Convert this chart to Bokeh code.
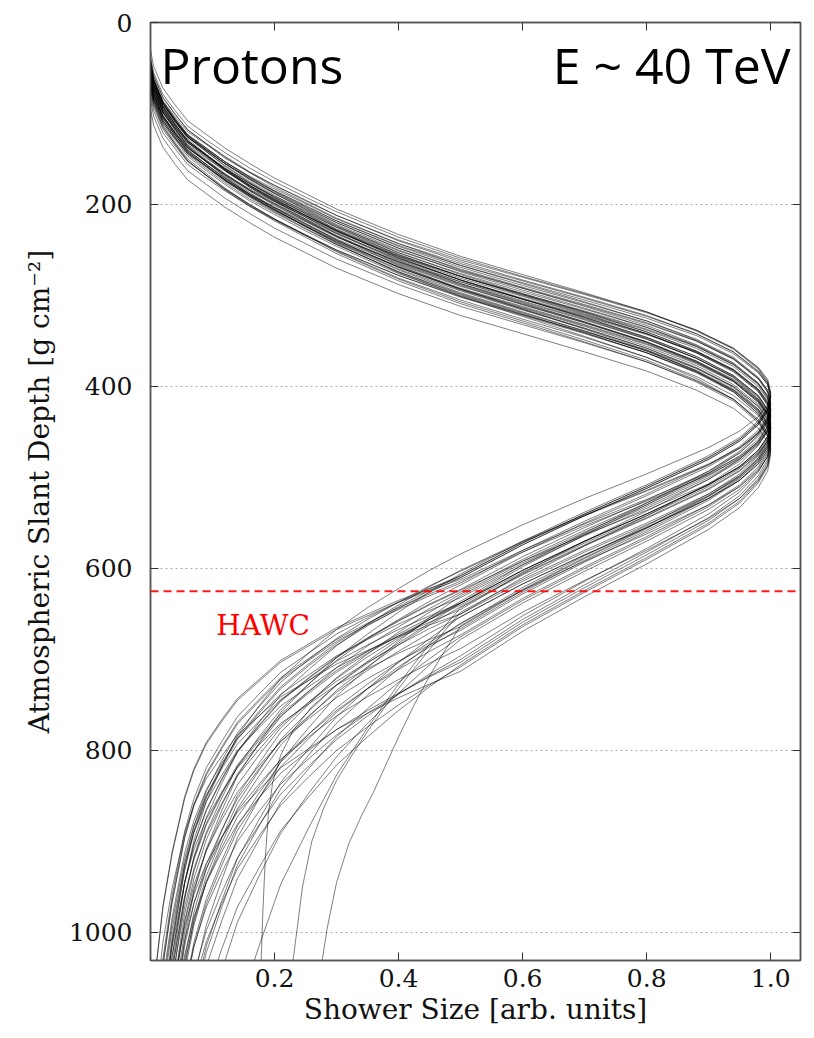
from bokeh.plotting import figure
from bokeh.models import (Range1d, FixedTicker, Label, LinearAxis, CustomJSTickFormatter,
                          Span, PrintfTickFormatter)
from bokeh.embed import file_html
from bokeh.resources import INLINE

# Shower size levels (fraction of maximum) at which each profile's depth is read
X_RISE = [0, 0.005, 0.02, 0.04, 0.06, 0.09, 0.12, 0.16, 0.20, 0.25, 0.30, 0.40, 0.50,
          0.60, 0.70, 0.80, 0.88, 0.94, 0.98, 0.995, 1.0]
X_FALL_TOP = [0.995, 0.98, 0.95, 0.90, 0.80, 0.70, 0.60, 0.50]
X_FALL_TAIL = [0.45, 0.40, 0.35, 0.30, 0.255, 0.21, 0.175, 0.14, 0.115, 0.09, 0.07, 0.055,
               0.035, 0.02, 0.01, 0.004]

# Slant depth [g cm^-2] of each shower at the levels above (rise | fall top | fall tail)
SHOWER_DEPTHS = [
    [45,63,87,106,123,138,153,170,186,203,220,248,272,292,312,333,354,374,396,411,425, 440,455,473,493,525,555,587,623, 639,657,676,697,720,745,772,801,831,865,903,945,1025,1105,1185,1265],
    [50,68,93,112,130,146,161,179,194,212,229,259,283,304,324,346,367,388,410,425,440, 455,470,488,508,540,570,602,638, 656,676,697,721,747,775,805,838,872,910,953,1000,1090,1180,1270,1360],
    [55,72,96,114,131,146,160,177,192,209,225,253,276,296,315,335,355,375,397,411,425, 439,452,468,486,515,542,571,603, 619,637,656,677,700,725,752,781,811,845,883,925,1005,1085,1165,1245],
    [48,67,92,112,130,146,162,180,196,214,232,262,287,308,329,351,373,394,418,433,448, 465,481,501,523,558,591,626,666, 686,708,732,758,787,818,852,888,926,968,1016,1068,1168,1268,1368,1468],
    [60,78,102,121,138,153,168,185,201,218,235,263,287,307,327,348,369,389,411,426,440, 455,470,488,508,540,570,602,638, 652,667,684,702,723,744,768,793,820,849,883,919,989,1059,1129,1199],
    [42,59,83,101,118,133,147,164,179,196,212,240,263,283,302,322,342,362,384,398,412, 427,442,460,480,512,542,574,610, 622,635,650,665,683,701,722,743,766,791,820,851,911,971,1031,1091],
    [65,83,108,127,145,161,176,194,209,227,244,274,298,319,339,361,382,403,425,440,455, 472,488,508,530,565,598,633,673, 691,711,732,756,782,810,840,873,907,945,988,1035,1125,1215,1305,1395],
    [52,69,92,110,126,140,155,171,185,201,218,245,267,286,305,325,344,364,385,398,412, 427,442,460,480,512,542,574,610, 626,644,663,684,707,732,759,788,818,852,890,932,1012,1092,1172,1252],
    [58,77,102,122,140,156,172,190,206,224,242,272,297,318,339,361,383,404,428,443,458, 476,494,516,540,578,614,652,696, 716,738,762,788,817,848,882,918,956,998,1046,1098,1198,1298,1398,1498],
    [46,64,89,108,126,142,157,175,190,208,225,255,279,300,320,342,363,384,406,421,436, 450,463,479,497,526,553,582,614, 628,643,660,678,699,720,744,769,796,825,859,895,965,1035,1105,1175],
    [70,87,110,128,144,158,173,189,203,219,236,263,285,304,323,343,362,382,403,416,430, 445,460,478,498,530,560,592,628, 648,670,694,720,749,780,814,850,888,930,978,1030,1130,1230,1330,1430],
    [62,79,103,121,138,153,167,184,199,216,232,260,283,303,322,342,362,382,404,418,432, 449,465,485,507,542,575,610,650, 666,684,703,724,747,772,799,828,858,892,930,972,1052,1132,1212,1292],
    [40,58,82,101,118,133,148,165,181,198,215,243,267,287,307,328,349,369,391,406,420, 435,450,468,488,520,550,582,618, 636,656,677,701,727,755,785,818,852,890,933,980,1070,1160,1250,1340],
    [75,93,117,136,153,168,183,200,216,233,250,278,302,322,342,363,384,404,426,441,455, 470,485,503,523,555,585,617,653, 677,703,732,763,798,835,876,919,965,1015,1073,1135,1255,1375,1495,1615],
    [54,72,96,115,132,147,162,179,195,212,229,257,281,301,321,342,363,383,405,420,434, 448,461,477,495,524,551,580,612, 624,637,652,667,685,703,724,745,768,793,822,853,913,973,1033,1093],
    [68,87,112,132,150,166,182,200,216,234,252,282,307,328,349,371,393,414,438,453,468, 486,504,526,550,588,624,662,706, 730,756,785,816,851,888,929,972,1018,1068,1126,1188,1308,1428,1548,1668],
    [50,67,90,108,124,138,153,169,183,199,216,243,265,284,303,323,342,362,383,396,410, 425,440,458,478,510,540,572,608, 622,637,654,672,693,714,738,763,790,819,853,889,959,1029,1099,1169],
    [80,97,121,139,156,171,185,202,217,234,250,278,301,321,340,360,380,400,422,436,450, 467,483,503,525,560,593,628,668, 684,702,721,742,765,790,817,846,876,910,948,990,1070,1150,1230,1310],
    [44,63,88,108,126,142,158,176,192,210,228,258,283,304,325,347,369,390,414,429,444, 459,474,492,512,544,574,606,642, 662,684,708,734,763,794,828,864,902,944,992,1044,1144,1244,1344,1444],
    [56,74,99,118,136,152,167,185,200,218,235,265,289,310,330,352,373,394,416,431,446, 463,479,499,521,556,589,624,664, 678,693,710,728,749,770,794,819,846,875,909,945,1015,1085,1155,1225],
    [64,81,104,122,138,152,167,183,197,213,230,257,279,298,317,337,356,376,397,410,424, 438,451,467,485,514,541,570,602, 620,640,661,685,711,739,769,802,836,874,917,964,1054,1144,1234,1324],
    [72,90,115,134,152,168,183,201,216,234,251,281,305,326,346,368,389,410,432,447,462, 480,498,520,544,582,618,656,700, 718,738,759,783,809,837,867,900,934,972,1015,1062,1152,1242,1332,1422],
    [48,65,89,107,124,139,153,170,185,202,218,246,269,289,308,328,348,368,390,404,418, 433,448,466,486,518,548,580,616, 630,645,662,680,701,722,746,771,798,827,861,897,967,1037,1107,1177],
    [60,79,104,124,142,158,174,192,208,226,244,274,299,320,341,363,385,406,430,445,460, 477,493,513,535,570,603,638,678, 706,737,770,807,847,891,938,989,1042,1101,1168,1241,1381,1521,1661,1801],
    [38,55,79,97,114,129,143,160,175,192,208,236,259,279,298,318,338,358,380,394,408, 423,438,456,476,508,538,570,606, 626,648,672,698,727,758,792,828,866,908,956,1008,1108,1208,1308,1408],
    [85,103,127,146,163,178,193,210,226,243,260,288,312,332,352,373,394,414,436,451,465, 483,501,523,547,585,621,659,703, 719,737,756,777,800,825,852,881,911,945,983,1025,1105,1185,1265,1345],
    [52,70,94,113,130,145,160,177,193,210,227,255,279,299,319,340,361,381,403,418,432, 447,462,480,500,532,562,594,630, 654,680,709,740,775,812,853,896,942,992,1050,1112,1232,1352,1472,1592],
    [66,84,108,127,144,159,174,191,207,224,241,269,293,313,333,354,375,395,417,432,446, 460,473,489,507,536,563,592,624, 640,658,677,698,721,746,773,802,832,866,904,946,1026,1106,1186,1266],
    [46,63,86,104,120,134,149,165,179,195,212,239,261,280,299,319,338,358,379,392,406, 420,433,449,467,496,523,552,584, 602,622,643,667,693,721,751,784,818,856,899,946,1036,1126,1216,1306],
    [95,113,137,156,173,188,203,220,236,253,270,298,322,342,362,383,404,424,446,461,475, 493,511,533,557,595,631,669,713, 727,742,759,777,798,819,843,868,895,924,958,994,1064,1134,1204,1274],
    [30,48,72,91,108,123,138,155,171,188,205,233,257,277,297,318,339,359,381,396,410, 425,440,458,478,510,540,572,608, 624,642,661,682,705,730,757,786,816,850,888,930,1010,1090,1170,1250],
    [58,75,98,116,132,146,161,177,191,207,224,251,273,292,311,331,350,370,391,404,418, 435,451,471,493,528,561,596,636, 656,678,702,728,757,788,822,858,896,938,986,1038,1138,1238,1338,1438],
    [70,89,114,134,152,168,184,202,218,236,254,284,309,330,351,373,395,416,440,455,470, 488,506,528,552,590,626,664,708, 728,750,774,800,829,860,894,930,968,1010,1058,1110,1210,1310,1410,1510],
    [50,70,96,117,136,153,170,189,205,224,243,275,301,323,345,368,391,414,438,454,470, 487,503,523,545,580,613,648,688, 704,722,741,762,785,810,837,866,896,930,968,1010,1090,1170,1250,1330],
    [42,62,88,109,128,145,162,181,197,216,235,267,293,315,337,360,383,406,430,446,462, 477,492,510,530,562,592,624,660, 684,710,739,770,805,842,883,926,972,1022,1080,1142,1262,1382,1502,1622],
    [62,80,105,124,142,158,173,191,206,224,241,271,295,316,336,358,379,400,422,437,452, 467,482,500,520,552,582,614,650, 662,675,690,705,723,741,762,783,806,831,860,891,951,1011,1071,1131],
    [52,70,95,114,132,148,163,181,196,214,231,261,285,306,326,348,369,390,412,427,442, 457,472,490,510,542,572,604,640, 656,674,693,714,737,762,789,818,848,882,920,962,1042,1122,1202,1282],
    [58,75,99,117,134,149,163,180,195,212,228,256,279,299,318,338,358,378,400,414,428, 443,458,476,496,528,558,590,626, 644,664,685,709,735,763,793,826,860,898,941,988,1078,1168,1258,1348],
    [47,65,89,108,125,140,155,172,188,205,222,250,274,294,314,335,356,376,398,413,427, 444,460,480,502,537,570,605,645, 659,674,691,709,730,751,775,800,827,856,890,926,996,1066,1136,1206],
    [63,81,105,124,141,156,171,188,204,221,238,266,290,310,330,351,372,392,414,429,443, 460,476,496,518,553,586,621,661, 681,703,727,753,782,813,847,883,921,963,1011,1063,1163,1263,1363,1463],
    [55,74,99,119,137,153,169,187,203,221,239,269,294,315,336,358,380,401,425,440,455, 470,485,503,523,555,585,617,653, 671,691,712,736,762,790,820,853,887,925,968,1015,1105,1195,1285,1375],
    [50,67,91,109,126,141,155,172,187,204,220,248,271,291,310,330,350,370,392,406,420, 437,453,473,495,530,563,598,638, 654,672,691,712,735,760,787,816,846,880,918,960,1040,1120,1200,1280],
    [67,85,110,129,147,163,178,196,211,229,246,276,300,321,341,363,384,405,427,442,457, 474,490,510,532,567,600,635,675, 699,725,754,785,820,857,898,941,987,1037,1095,1157,1277,1397,1517,1637],
    [44,62,87,106,124,140,155,173,188,206,223,253,277,298,318,340,361,382,404,419,434, 449,464,482,502,534,564,596,632, 646,661,678,696,717,738,762,787,814,843,877,913,983,1053,1123,1193],
]

# Showers with long tails: their own tail levels and depths (rise | fall top | tail)
LONG_TAIL_LEVELS = [
    [0.475, 0.45, 0.425, 0.40, 0.38, 0.36, 0.34, 0.32, 0.30, 0.285, 0.27, 0.255],
    [0.475, 0.45, 0.425, 0.40, 0.375, 0.35, 0.325, 0.30, 0.28, 0.26, 0.245, 0.23, 0.22],
    [0.45, 0.40, 0.35, 0.30, 0.26, 0.23, 0.21, 0.197, 0.19, 0.185, 0.181, 0.178, 0.176],
    [0.45, 0.40, 0.35, 0.30, 0.255, 0.21, 0.175, 0.14],
]
LONG_TAIL_DEPTHS = [
    [55,73,98,117,135,151,166,184,199,217,234,264,288,309,329,351,372,393,415,430,445, 462,478,498,520,555,588,623,663, 690,718,750,785,815,845,872,902,945,995,1060,1130],
    [60,78,103,122,140,156,171,189,204,222,239,269,293,314,334,356,377,398,420,435,450, 465,480,498,518,550,580,612,648, 668,689,710,732,755,779,805,833,862,900,950,1030,1100],
    [50,68,93,112,130,146,161,179,194,212,229,259,283,304,324,346,367,388,410,425,440, 455,470,488,508,540,570,602,638, 660,682,704,728,752,778,805,835,870,920,980,1040,1100],
    [65,83,107,126,143,158,173,190,206,223,240,268,292,312,332,353,374,394,416,431,445, 460,475,493,513,545,575,607,643, 683,727,775,827,885,947,1015,1087],
]

HAWC_DEPTH = 625
X_TICKS = [0.2, 0.4, 0.6, 0.8, 1.0]
Y_TICKS = [0, 200, 400, 600, 800, 1000]

xs, ys = [], []
for d in SHOWER_DEPTHS:
    lv = X_RISE + X_FALL_TOP + X_FALL_TAIL
    n = min(len(lv), len(d))
    xs.append(lv[:n])
    ys.append(d[:n])
for tail, d in zip(LONG_TAIL_LEVELS, LONG_TAIL_DEPTHS):
    lv = X_RISE + X_FALL_TOP + tail
    n = min(len(lv), len(d))
    xs.append(lv[:n])
    ys.append(d[:n])

p = figure(width=814, height=1038,
           x_range=Range1d(0, 1.048), y_range=Range1d(1030.8, 0),
           output_backend="svg", toolbar_location=None,
           min_border_left=150, min_border_right=14,
           min_border_top=22, min_border_bottom=78)
p.background_fill_color = "white"
p.border_fill_color = "white"
p.outline_line_color = "#555555"
p.outline_line_width = 1.5

p.multi_line(xs=xs, ys=ys, line_color="black", line_alpha=0.5, line_width=1)

p.add_layout(Span(location=HAWC_DEPTH, dimension="width", line_color="red",
                  line_dash="8 5", line_width=2, line_alpha=0.9))

SERIF = "DejaVu Serif"

xa = p.xaxis[0]
xa.ticker = FixedTicker(ticks=X_TICKS)
xa.formatter = PrintfTickFormatter(format="%.1f")
xa.axis_label = "Shower Size [arb. units]"
ya = p.yaxis[0]
ya.ticker = FixedTicker(ticks=Y_TICKS)
ya.axis_label = "Atmospheric Slant Depth [g cm\u207b\u00b2]"

for ax in (xa, ya):
    ax.axis_line_color = "#555555"
    ax.axis_line_width = 1.5
    ax.major_tick_in = 8
    ax.major_tick_out = 0
    ax.major_tick_line_color = "#333333"
    ax.minor_tick_in = 0
    ax.minor_tick_out = 0
    ax.major_label_text_font = SERIF
    ax.major_label_text_font_size = "25px"
    ax.major_label_text_color = "#111111"
    ax.axis_label_text_font = SERIF
    ax.axis_label_text_font_size = "28px"
    ax.axis_label_text_font_style = "normal"
    ax.axis_label_text_color = "#111111"

xa.major_label_standoff = 8
xa.axis_label_standoff = 3
ya.major_label_standoff = 18
ya.axis_label_standoff = 10

blank = CustomJSTickFormatter(code="return ''")
top = LinearAxis(ticker=FixedTicker(ticks=X_TICKS), formatter=blank)
right = LinearAxis(ticker=FixedTicker(ticks=Y_TICKS), formatter=blank)
for ax in (top, right):
    ax.axis_line_color = "#555555"
    ax.axis_line_width = 1.5
    ax.major_tick_in = 8
    ax.major_tick_out = 0
    ax.major_tick_line_color = "#333333"
    ax.minor_tick_in = 0
    ax.minor_tick_out = 0
    ax.major_label_standoff = 0
    ax.major_label_text_font_size = "1px"
p.add_layout(top, "above")
p.add_layout(right, "right")

p.xgrid.visible = False
p.ygrid.ticker = FixedTicker(ticks=Y_TICKS)
p.ygrid.grid_line_color = "#aaaaaa"
p.ygrid.grid_line_dash = "2 3"
p.ygrid.grid_line_width = 1

p.add_layout(Label(x=0.016, y=47, text="Protons", text_font="Open Sans",
                   text_font_size="50px", text_color="black", text_baseline="alphabetic"))
p.add_layout(Label(x=1.032, y=47, text="E ~ 40 TeV", text_font="Open Sans",
                   text_font_size="50px", text_color="black", text_baseline="alphabetic",
                   text_align="right"))
p.add_layout(Label(x=0.106, y=663, text="HAWC", text_font=SERIF,
                   text_font_size="28px", text_color="red", text_baseline="alphabetic"))

open("out.html", "w").write(file_html(p, INLINE))
